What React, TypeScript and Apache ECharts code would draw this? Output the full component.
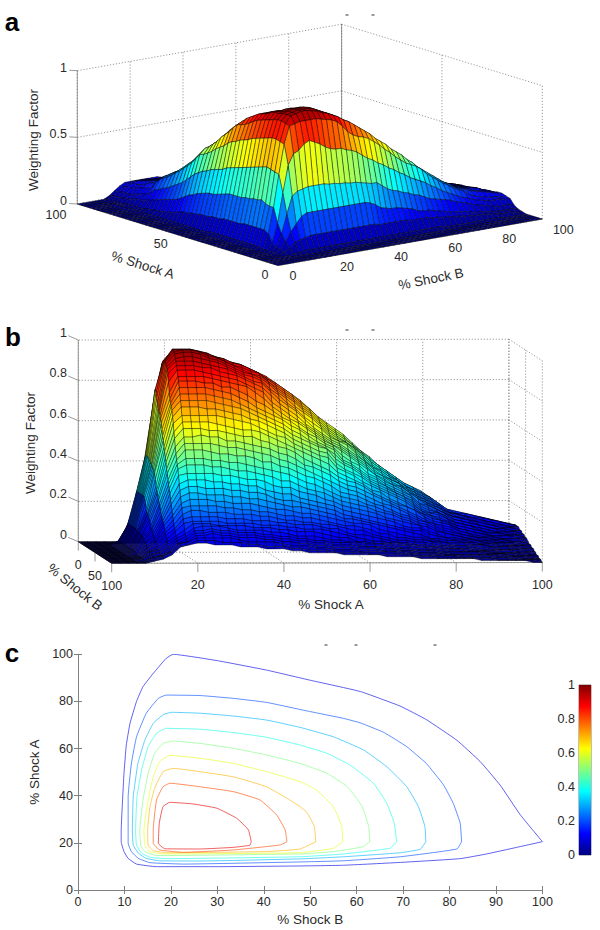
import React, { useEffect, useRef } from "react";
import * as echarts from "echarts";

const FONT = "'Liberation Sans', Arial, sans-serif";
const GREY = "#808080";
const TXT = "#2a2a2a";

// Shock levels of the surface table (both directions).
const shockLevels = [0,2,4,6,8,10,12,14,16,18,20,22,24,26,28,30,32,34,36,38,40,42,44,46,48,50,52,54,56,58,60,62,64,66,68,70,72,74,76,78,80,82,84,86,88,90,92,94,96,98,100];
// weightPercent[i][j]: weighting factor x 100 at %Shock A = shockLevels[i], %Shock B = shockLevels[j].
const weightPercent = [
[0,0,0,0,0, 0,0,0,0,0, 0,0,0,0,0,0,0,0,0,0, 0,0,0,0,0,0,0,0,0,0, 0,0,0,0,0,0,0,0,0,0, 0,0,0,0,0,0,0,0,0,0,0],
[0,0,0,0,0, 0,0,0,0,0, 0,0,0,0,0,0,0,0,0,0, 0,0,0,0,0,0,0,0,0,0, 0,0,0,0,0,0,0,0,0,0, 0,0,0,0,0,0,0,0,0,0,0],
[0,0,0,0,0, 0,0,0,0,0, 0,0,0,0,0,0,0,0,0,0, 0,0,0,0,0,0,0,0,0,0, 0,0,0,0,0,0,0,0,0,0, 0,0,0,0,0,0,0,0,0,0,0],
[0,0,0,0,0, 0,0,0,0,0, 0,0,0,0,0,0,0,0,0,0, 0,0,0,0,0,0,0,0,0,0, 0,0,0,0,0,0,0,0,0,0, 0,0,0,0,0,0,0,0,0,0,0],
[0,0,0,0,0, 0,1,1,2,2, 2,2,2,2,2,2,2,2,2,2, 2,2,2,2,2,2,2,2,2,2, 2,2,2,2,2,1,1,1,1,1, 1,1,1,1,1,1,0,0,0,0,0],
[0,0,0,0,0, 2,4,8,9,10, 11,11,11,11,11,11,11,11,11,11, 11,11,11,10,10,10,10,10,10,9, 9,9,9,8,8,7,7,6,6,5, 5,4,4,4,3,3,2,2,2,1,1],
[0,0,0,0,1, 3,8,15,20,25, 27,27,27,27,27,27,27,27,27,27, 27,27,26,24,21,20,19,19,18,17, 16,14,13,13,12,11,10,9,8,8, 7,6,5,5,4,4,3,3,3,3,2],
[0,0,0,0,1, 4,13,27,40,43, 44,45,45,45,45,44,44,43,43,42, 42,41,40,39,39,36,33,31,30,28, 27,25,24,22,20,19,18,17,16,14, 13,12,10,9,8,7,6,5,5,5,4],
[0,0,0,0,1, 6,20,42,62,70, 72,76,78,76,74,71,69,68,68,66, 65,63,60,57,55,52,50,47,45,42, 40,37,35,33,31,28,26,23,21,19, 17,15,14,12,11,10,9,9,9,8,8],
[0,0,0,0,1, 12,31,55,77,90, 91,92,92,92,92,91,90,89,87,83, 78,75,73,72,70,67,64,60,57,53, 50,47,45,43,40,36,33,30,27,25, 22,20,18,15,13,12,11,10,10,9,9],
[0,0,0,0,2, 14,31,56,78,91, 96,97,98,98,97,96,94,93,91,89, 86,84,81,78,75,72,68,65,62,58, 55,52,48,45,41,38,35,32,29,26, 24,21,19,18,16,15,14,13,12,11,10],
[0,0,0,0,2, 14,32,57,79,92, 96,97,98,98,98,97,95,93,91,89, 86,84,81,78,75,72,68,65,62,58, 55,52,48,45,41,38,35,32,29,26, 24,21,19,18,17,15,14,13,12,11,10],
[0,0,0,0,2, 14,34,58,79,92, 96,97,98,98,98,97,95,93,91,89, 86,84,81,78,75,72,68,65,62,59, 55,52,48,45,41,38,34,31,29,26, 23,21,19,18,17,16,15,14,12,11,9],
[0,0,0,0,2, 14,33,57,78,91, 95,96,97,97,97,96,94,92,90,88, 86,83,81,78,75,71,68,65,61,58, 55,51,47,44,41,37,34,31,28,26, 23,21,19,17,17,15,14,13,12,10,9],
[0,0,0,0,2, 14,33,56,77,90, 95,95,96,96,95,94,93,91,90,87, 85,83,80,77,74,71,68,64,61,58, 54,50,47,44,40,37,34,31,28,25, 23,20,18,17,16,15,14,13,12,10,9],
[0,0,0,0,2, 14,32,55,76,89, 94,94,94,94,94,93,92,90,88,86, 84,81,79,76,73,70,67,63,60,56, 53,50,46,43,40,36,33,30,27,25, 22,20,18,17,15,14,13,12,11,10,8],
[0,0,0,0,2, 13,32,54,75,88, 92,93,93,92,92,91,90,89,87,85, 83,81,78,75,72,69,66,62,59,56, 53,49,46,42,39,36,33,30,27,24, 22,20,18,17,15,14,13,12,10,9,8],
[0,0,0,0,2, 13,31,53,74,87, 91,91,91,90,90,89,88,87,86,84, 82,79,76,73,71,68,65,61,58,55, 52,49,45,42,38,35,32,29,27,24, 22,19,18,16,15,14,13,12,10,9,8],
[0,0,0,0,2, 13,31,52,72,85, 90,90,90,89,88,87,86,85,84,82, 81,77,74,71,69,66,64,61,58,54, 51,48,44,41,38,35,32,29,26,23, 21,19,17,16,15,13,12,11,10,8,7],
[0,0,0,0,2, 13,31,51,71,83, 88,88,88,87,86,86,85,83,82,80, 78,74,71,69,67,65,62,60,56,53, 50,46,43,40,37,33,31,28,25,23, 21,19,17,16,14,13,12,11,10,8,7],
[0,0,0,0,2, 13,31,50,70,81, 86,86,86,86,85,84,83,82,80,78, 75,72,69,67,65,63,60,58,55,52, 49,46,42,39,35,32,29,27,24,22, 20,18,17,15,14,12,11,10,9,8,7],
[0,0,0,0,2, 12,30,49,68,80, 84,83,83,82,82,81,79,78,76,73, 71,69,67,65,63,61,58,56,53,50, 47,44,41,37,34,31,28,26,24,21, 19,18,16,15,13,12,11,10,8,7,6],
[0,0,0,0,2, 12,29,48,67,79, 81,81,80,79,78,77,76,74,72,70, 68,66,65,63,61,59,57,54,52,49, 46,43,40,37,34,31,28,25,23,21, 19,17,16,14,12,11,10,9,8,7,6],
[0,0,0,0,1, 12,28,46,65,76, 78,78,77,76,75,74,72,71,69,67, 65,64,62,60,58,56,54,52,50,47, 44,41,38,35,32,29,27,25,22,20, 18,17,15,14,12,11,10,9,8,6,5],
[0,0,0,0,1, 11,27,45,62,72, 75,75,74,73,72,70,69,68,66,64, 63,61,60,58,56,54,52,50,47,44, 42,39,36,33,31,28,26,24,22,20, 18,17,15,14,12,10,9,8,7,6,5],
[0,0,0,0,1, 11,27,44,60,69, 72,71,70,69,68,67,65,64,62,61, 60,58,57,55,54,52,50,48,45,43, 40,38,35,32,30,27,25,23,21,19, 17,16,15,13,11,10,9,8,7,6,5],
[0,0,0,0,1, 11,26,43,58,66, 68,68,67,66,65,64,62,60,59,58, 57,56,54,53,52,50,48,46,43,41, 38,36,33,31,28,26,24,22,20,18, 17,15,14,12,10,9,8,7,6,5,5],
[0,0,0,0,1, 10,25,41,55,62, 64,64,63,62,61,60,59,57,56,55, 54,53,52,51,51,49,47,44,41,39, 36,34,31,29,27,25,23,21,19,17, 16,15,13,11,10,9,8,7,6,5,4],
[0,0,0,0,1, 10,24,40,53,59, 61,60,59,58,57,56,55,54,53,52, 52,51,50,48,46,44,42,40,38,36, 34,31,29,27,25,23,21,19,18,16, 15,13,12,11,9,9,8,7,6,5,4],
[0,0,0,0,1, 9,22,38,51,56, 58,57,56,55,54,53,53,52,51,50, 49,47,45,44,43,41,40,38,36,34, 32,30,28,26,24,22,20,19,17,16, 14,12,11,9,9,8,7,6,5,5,4],
[0,0,0,0,1, 9,21,36,50,54, 55,54,53,52,52,52,51,49,48,47, 46,44,43,42,41,39,38,36,35,33, 31,29,27,25,23,21,19,18,17,15, 14,12,10,9,8,7,7,6,5,4,4],
[0,0,0,0,1, 8,19,33,46,50, 51,50,50,49,49,48,47,46,45,44, 43,42,40,39,38,37,35,34,33,31, 29,27,25,24,22,20,18,17,16,14, 12,11,9,8,8,7,7,6,5,4,4],
[0,0,0,0,1, 7,17,30,42,46, 47,47,46,46,45,44,43,43,42,41, 40,38,37,36,35,34,33,31,30,29, 27,25,24,22,21,19,17,16,14,12, 11,10,9,8,8,7,6,5,5,4,3],
[0,0,0,0,1, 6,15,27,39,42, 44,43,42,42,41,40,40,39,38,37, 37,36,35,34,33,32,31,30,28,27, 25,24,22,21,19,18,16,15,13,12, 10,9,8,8,7,6,6,5,5,4,3],
[0,0,0,0,1, 5,14,25,36,39, 40,40,39,39,38,38,37,36,36,35, 34,33,32,32,31,30,29,27,26,25, 24,22,21,20,18,17,15,14,12,10, 9,8,8,7,6,6,5,5,4,4,3],
[0,0,0,0,1, 5,13,23,33,36, 37,37,36,36,35,35,34,34,33,32, 32,31,30,29,29,28,27,25,24,23, 22,20,19,18,17,15,14,13,11,10, 9,8,7,7,6,5,5,4,4,3,3],
[0,0,0,0,1, 4,12,21,31,33, 34,34,33,33,33,32,32,32,31,31, 30,29,28,27,27,26,25,23,23,21, 20,19,18,17,16,14,13,12,10,9, 8,7,7,6,5,5,4,4,3,3,2],
[0,0,0,0,1, 4,11,19,28,30, 31,31,30,30,30,29,29,28,28,28, 27,27,26,25,24,23,22,21,21,19, 18,17,16,15,15,14,13,11,10,9, 8,7,6,6,5,5,4,4,3,3,2],
[0,0,0,0,1, 3,10,18,26,28, 29,29,28,28,27,27,26,26,25,25, 23,23,22,21,20,20,19,19,18,17, 16,16,15,14,12,11,9,9,8,8, 7,6,6,5,5,4,4,3,3,2,2],
[0,0,0,0,1, 3,9,16,24,26, 27,26,26,25,25,24,24,23,23,22, 22,21,20,19,19,18,18,17,16,15, 15,14,13,12,11,10,9,8,8,7, 6,6,5,5,4,4,3,3,3,2,2],
[0,0,0,0,1, 2,8,15,22,24, 24,24,23,23,22,22,21,21,20,20, 20,19,19,19,18,17,16,16,15,14, 13,12,11,11,9,9,8,7,7,6, 6,5,5,4,4,3,3,3,3,2,2],
[0,0,0,0,1, 2,7,12,19,21, 21,21,20,20,20,19,19,19,18,18, 18,17,17,16,16,15,15,14,14,13, 12,11,10,10,9,8,8,7,6,6, 5,5,5,4,4,3,3,3,2,2,2],
[0,0,0,0,1, 2,6,10,14,17, 18,18,17,17,17,17,16,16,16,15, 15,14,14,14,13,13,12,12,11,11, 10,10,9,9,8,8,7,7,6,6, 5,5,4,4,4,3,3,3,2,2,2],
[0,0,0,0,1, 2,6,9,13,16, 17,16,16,16,16,15,15,15,15,14, 14,13,13,13,12,12,11,11,10,10, 9,9,8,8,8,7,7,6,6,5, 5,4,4,4,4,3,3,3,2,2,1],
[0,0,0,0,1, 2,5,8,12,15, 16,16,15,15,15,15,14,14,14,13, 13,12,12,12,11,11,10,10,9,8, 8,8,7,7,7,6,6,6,6,5, 4,4,4,4,3,3,3,3,2,2,1],
[0,0,0,0,1, 1,4,7,11,13, 15,15,14,14,14,13,13,13,12,12, 12,11,11,10,10,10,9,9,8,8, 8,7,7,6,6,6,5,5,5,4, 4,4,3,3,3,3,3,2,2,1,1],
[0,0,0,0,1, 1,4,6,10,12, 14,14,14,13,13,13,12,12,11,11, 11,10,10,9,9,8,8,8,8,7, 7,7,6,6,6,5,5,5,4,4, 4,3,3,3,3,3,2,2,2,1,1],
[0,0,0,0,0, 1,3,6,9,11, 13,13,13,12,12,11,11,11,10,10, 10,9,9,9,9,8,8,7,7,7, 7,6,6,6,5,5,5,5,4,4, 4,3,3,3,2,2,2,2,1,1,1],
[0,0,0,0,0, 1,3,6,9,11, 12,12,12,11,11,11,10,10,10,10, 9,9,9,8,8,8,8,7,7,6, 6,6,6,5,5,5,5,4,4,4, 3,3,3,2,2,2,2,1,1,1,1],
[0,0,0,0,0, 1,3,5,8,10, 11,11,11,10,10,10,10,10,9,9, 9,9,8,8,8,8,7,7,7,6, 6,6,5,5,5,5,4,4,4,3, 3,3,2,2,2,2,1,1,1,1,0],
[0,0,0,0,0, 0,2,5,8,10, 10,10,10,10,10,10,9,9,9,9, 8,8,8,8,7,7,7,7,6,6, 5,5,5,5,4,4,4,4,3,3, 3,2,2,2,2,1,1,1,1,0,0],
];

// Contours of panel c, [%Shock B, %Shock A], one list per level.
const contourLevels = [0.1,0.2,0.3,0.4,0.5,0.6,0.7,0.8,0.9];
const contour10 = [[100,20.5],[95.2,32],[90.9,44.5],[86.6,54.5],[81.6,63.5],[75,72.3],[69.4,78],[60.8,84.2],[50,89],[40.6,93.3],[30,97.3],[20.5,100],[19,98.3],[16.5,92.6],[14,86.3],[12.6,80],[11.2,70.7],[10.4,61.5],[9.9,49.5],[9.6,38.2],[9.3,25.5],[9.3,20.5],[9.9,16.3],[10.8,13.4],[12.6,11],[16.9,9.9],[30,9.9],[47.8,10.2],[57.2,10.5],[69.4,11.7],[82.3,13.3],[88,15.3],[94.5,18.1],[100,20.5]];
const contour20 = [[82.6,20.5],[82.3,28.3],[80.8,36.8],[78.7,44.6],[75,53.7],[70.8,60.8],[65.8,66.9],[60.8,70.9],[57.2,72.8],[50,75.7],[47.8,76.6],[40.6,79.6],[33.5,81.3],[26.3,82.5],[19,82.7],[17.3,81.3],[14.7,75],[12.6,65],[11.5,53.7],[10.8,39.6],[10.8,25.5],[10.8,19.8],[11.5,16.3],[13,13.4],[15.5,11.6],[22.7,11],[47.8,11.9],[57.2,12.4],[69.4,14.1],[81.6,17.4],[82.6,20.5]];
const contour30 = [[74.9,20.5],[74.7,26.9],[73.3,35.4],[70.8,43.8],[66.5,52.3],[61.5,59.4],[55,65],[47.8,69],[40.6,72.1],[33.5,73.8],[26.3,75],[20.1,75.4],[18.3,74.3],[16.2,70.7],[14.4,63.6],[12.9,53.7],[11.9,39.6],[11.7,25.5],[11.9,19],[13,15.6],[14.7,13.4],[17.6,12.4],[26.3,12.3],[47.8,13.2],[57.2,14.1],[69.4,15.8],[73.7,17.3],[74.9,20.5]];
const contour40 = [[68.6,20.5],[68.1,28.3],[66.5,36.8],[63.6,45.3],[58.6,53],[53.6,58],[47.8,61.5],[40.6,64.8],[33.5,66.8],[26.3,68.2],[19,68.6],[16.9,66.5],[15.1,60.8],[13.7,50.9],[12.7,39.6],[12.4,25.5],[12.6,19],[13.7,15.6],[15.5,13.9],[19,13.3],[47.8,14.1],[57.2,15.3],[67.2,17.7],[68.6,20.5]];
const contour50 = [[62.8,20.5],[62.6,26.9],[61.2,35.4],[58,43.8],[53.6,49.5],[47.8,53.7],[40.6,57.3],[33.5,60.1],[26.3,62.2],[20.5,63.2],[18.3,62.2],[16.5,58],[15.1,49.5],[14,38.2],[13.3,25.5],[13.5,19],[14.4,16.3],[16.9,14.6],[47.8,15.3],[55,16.3],[61.5,18.4],[62.8,20.5]];
const contour60 = [[57,20.5],[56.8,26.9],[55,35.4],[51.4,42.4],[47.8,46],[40.6,50.2],[33.5,53.7],[26.3,55.9],[19.8,57.1],[17.6,54.5],[16.2,48],[15.1,38.2],[14.2,25.5],[14.4,19],[15.5,16.3],[18.3,15.3],[47.8,15.8],[55,17.7],[57,20.5]];
const contour70 = [[51.2,20.5],[50.9,26.9],[49.3,32.9],[47.8,35.4],[45,38.9],[40.6,43.8],[33.5,48],[26.3,50.2],[20.5,51.6],[18.3,50.2],[16.5,43.1],[15.5,35.4],[15,25.5],[15.1,19],[16.2,16.7],[19,15.8],[40.6,16.3],[47.8,17.4],[51.2,20.5]];
const contour80 = [[45,20.5],[44.6,25.5],[42.8,31.8],[39.2,38.2],[33.5,41.7],[26.3,43.8],[19.8,45.3],[18.3,43.8],[16.9,38.2],[16.2,25.5],[16.2,19.8],[17.6,17],[22.7,16],[33.5,17],[43.5,19.1],[45,20.5]];
const contour90 = [[37.3,20.5],[36.7,25.5],[34.2,30.4],[29.9,34.7],[24.8,36.5],[19.8,37.2],[18.3,35.4],[17.5,28.3],[17.3,19.8],[18.7,17.5],[26.3,17.4],[33.5,18.1],[37,19],[37.3,20.5]];
const contourLines = [contour10,contour20,contour30,contour40,contour50,contour60,contour70,contour80,contour90];

// Tick labels
const aZTicks = [0,0.5,1];
const aATicks = [0,50,100];
const aBTicks = [0,20,40,60,80,100];
const bZTicks = [0,0.2,0.4,0.6,0.8,1];
const bATicks = [20,40,60,80,100];
const bBTicks = [0,50,100];

// The MATLAB "jet" colour map
const jetStops: [number, number[]][] = [[0,[0,0,.5]],[.125,[0,0,1]],[.375,[0,1,1]],[.625,[1,1,0]],[.875,[1,0,0]],[1,[.5,0,0]]];
function jet(t: number) {
  const v = Math.max(0, Math.min(1, t));
  for (let i = 1; i < jetStops.length; i++) {
    const [p0, c0] = jetStops[i - 1];
    const [p1, c1] = jetStops[i];
    if (v <= p1) {
      const f = (v - p0) / (p1 - p0);
      const c = c0.map((x, k) => Math.round(255 * (x + (c1[k] - x) * f)));
      return `rgb(${c[0]},${c[1]},${c[2]})`;
    }
  }
  return "rgb(128,0,0)";
}

type Proj = (a: number, b: number, z: number) => number[];
// Orthographic views: screen position of a point (%A, %B, weight)
const viewA: Proj = (a, b, z) => [278 - 2.007 * a + 2.643 * b, 265.5 - 0.615 * a - 0.465 * b - 133.3 * z];
const viewB: Proj = (a, b, z) => [78.3 + 4.306 * a + 0.334 * b, 541.7 - 0.008 * a + 0.216 * b - 201.7 * z];

function quadData(aOrder: number[], bOrder: number[]) {
  const out: number[][] = [];
  for (const i of aOrder) for (const j of bOrder) {
    out.push([shockLevels[i], shockLevels[j], shockLevels[i + 1], shockLevels[j + 1],
      weightPercent[i][j] / 100, weightPercent[i][j + 1] / 100, weightPercent[i + 1][j + 1] / 100, weightPercent[i + 1][j] / 100]);
  }
  return out;
}
const idx = shockLevels.slice(0, -1).map((_, i) => i);
const desc = [...idx].reverse();

function surfaceSeries(view: Proj, data: number[][]) {
  return {
    type: "custom", coordinateSystem: "cartesian2d", xAxisIndex: 0, yAxisIndex: 0,
    data, clip: false, silent: true, progressive: 0, z: 3, encode: { x: 0, y: 1 },
    renderItem: (_: any, api: any) => {
      const a0 = api.value(0), b0 = api.value(1), a1 = api.value(2), b1 = api.value(3);
      const z = [api.value(4), api.value(5), api.value(6), api.value(7)];
      const pts = [view(a0, b0, z[0]), view(a0, b1, z[1]), view(a1, b1, z[2]), view(a1, b0, z[3])].map((p) => api.coord(p));
      return { type: "polygon", shape: { points: pts },
        style: { fill: jet((z[0] + z[1] + z[2] + z[3]) / 4), stroke: "rgba(0,0,0,0.8)", lineWidth: 0.5 } };
    },
  };
}

const seg = (p: number[], q: number[], dotted = true, color = GREY, w = 0.8) => ({
  type: "line", silent: true, shape: { x1: p[0], y1: p[1], x2: q[0], y2: q[1] },
  style: { stroke: color, lineWidth: w, lineDash: dotted ? [1.2, 1.8] : null },
});
const label = (text: string, x: number, y: number, size = 12.5, rotation = 0, weight = "normal", color = TXT, align = "center") => ({
  type: "text", silent: true, x, y, rotation,
  style: { text, fill: color, font: `${weight} ${size}px ${FONT}`, align, verticalAlign: "middle", textAlign: align, textVerticalAlign: "middle" },
});

function wireframe(view: Proj, wallB: number, otherB: number, zTicks: number[], aTicks: number[], bTicks: number[]) {
  const els: any[] = [];
  for (const z of zTicks) {
    if (z === 0) continue;
    els.push(seg(view(100, wallB, z), view(0, wallB, z)));
    els.push(seg(view(100, wallB, z), view(100, otherB, z)));
  }
  for (const a of aTicks) {
    els.push(seg(view(a, wallB, 0), view(a, wallB, 1)));
    els.push(seg(view(a, 0, 0), view(a, 100, 0)));
  }
  for (const b of bTicks) {
    els.push(seg(view(100, b, 0), view(100, b, 1)));
    els.push(seg(view(0, b, 0), view(100, b, 0)));
  }
  return els;
}

function buildGraphics() {
  const els: any[] = [];
  // Panel a
  els.push(...wireframe(viewA, 100, 0, aZTicks, aATicks, aBTicks));
  els.push(seg(viewA(100, 0, 0), viewA(100, 0, 1), false));
  els.push(seg(viewA(100, 100, 0), viewA(100, 100, 1), false));
  els.push(seg(viewA(0, 0, 0), viewA(100, 0, 0), false));
  els.push(seg(viewA(0, 0, 0), viewA(0, 100, 0), false));
  for (const z of aZTicks) {
    const p = viewA(100, 0, z);
    els.push(seg([p[0] - 8, p[1] - 0.5], p, false));
    els.push(label(String(z), 67, p[1] - 3, 12.5, 0, "normal", TXT, "right"));
  }
  const aLabelPos: number[][] = [[265, 275], [160.7, 244], [56, 214.5]];
  aATicks.forEach((a, i) => els.push(label(String(a), aLabelPos[i][0], aLabelPos[i][1])));
  aBTicks.forEach((b) => {
    const p = viewA(0, b, 0);
    els.push(label(String(b), p[0] + 15 + 0.06 * b, p[1] + 10.5));
  });
  els.push(label("Weighting Factor", 33, 140, 13.5, Math.PI / 2));
  els.push(label("% Shock A", 142.7, 265, 13.5, -0.3));
  els.push(label("% Shock B", 431, 279, 13.5, 0.2));
  els.push(label("a", 12, 22, 26, 0, "bold", "#000"));

  // Panel b
  els.push(...wireframe(viewB, 0, 100, bZTicks, [...bATicks, 0], bBTicks));
  els.push(seg(viewB(0, 0, 0), viewB(0, 0, 1), false));
  els.push(seg(viewB(0, 0, 0), viewB(0, 100, 0), false));
  els.push(seg(viewB(0, 100, 0), viewB(100, 100, 0), false));
  for (const z of bZTicks) {
    const p = viewB(0, 0, z);
    els.push(seg([p[0] - 10, p[1] - 4.3], p, false));
    els.push(label(String(z), 67, p[1] - 7, 12.5, 0, "normal", TXT, "right"));
  }
  bATicks.forEach((a) => {
    const p = viewB(a, 100, 0);
    els.push(seg(p, [p[0], p[1] + 9], false));
    els.push(label(String(a), p[0], p[1] + 22));
  });
  bBTicks.forEach((b) => {
    const p = viewB(0, b, 0);
    els.push(seg(p, [p[0], p[1] + 9], false));
    els.push(label(String(b), p[0], p[1] + 23));
  });
  els.push(label("Weighting Factor", 30, 443, 13.5, Math.PI / 2));
  els.push(label("% Shock A", 331, 604, 13.5));
  els.push(label("% Shock B", 75, 587, 13.5, -0.68));
  els.push(label("b", 13, 337, 26, 0, "bold", "#000"));

  // Panel c
  els.push(label("c", 12, 653, 26, 0, "bold", "#000"));

  // Remains of cropped titles
  for (const [x, y] of [[347, 15], [373, 15], [347, 330], [373, 330], [326, 645], [356, 645], [435, 645]]) {
    els.push(seg([x - 1.5, y], [x + 1.5, y], false, "#333", 1));
  }
  return els;
}

export default function App() {
  const ref = useRef<HTMLDivElement>(null);
  useEffect(() => {
    document.body.style.margin = "0";
    const chart = echarts.init(ref.current!, null, { renderer: "svg" });
    const axisLine = { show: true, lineStyle: { color: GREY, width: 1 } };
    const axisTick = { show: true, inside: true, length: 4, lineStyle: { color: GREY } };
    const axisLabel = { color: TXT, fontSize: 12.5, fontFamily: FONT, margin: 5 };
    const cBase = { type: "value", min: 0, max: 100, interval: 10, splitLine: { show: false }, axisLine, axisTick };
    const cBaseY = { ...cBase, interval: 20 };
    chart.setOption({
      animation: false,
      backgroundColor: "#fff",
      graphic: { elements: buildGraphics() },
      grid: [
        { left: 0, top: 0, width: 600, height: 930 },
        { left: 78, top: 654.3, width: 464.4, height: 235.7 },
        { left: 579, top: 685, width: 12, height: 170, show: true, borderColor: GREY, borderWidth: 1 },
      ],
      xAxis: [
        { type: "value", gridIndex: 0, min: 0, max: 600, show: false },
        { ...cBase, gridIndex: 1, position: "bottom", axisLabel, name: "% Shock B", nameLocation: "middle", nameGap: 22,
          nameTextStyle: { color: TXT, fontSize: 13.5, fontFamily: FONT } },
        { ...cBase, gridIndex: 1, position: "top", axisLabel: { show: false } },
        { type: "category", gridIndex: 2, data: [""], show: false },
      ],
      yAxis: [
        { type: "value", gridIndex: 0, min: 0, max: 930, inverse: true, show: false },
        { ...cBaseY, gridIndex: 1, position: "left", axisLabel, name: "% Shock A", nameLocation: "middle", nameGap: 36,
          nameTextStyle: { color: TXT, fontSize: 13.5, fontFamily: FONT } },
        { ...cBaseY, gridIndex: 1, position: "right", axisLabel: { show: false } },
        { type: "value", gridIndex: 2, min: 0, max: 1, interval: 0.2, position: "left", splitLine: { show: false },
          axisLine: { show: false }, axisTick: { show: true, inside: false, length: 0 },
          axisLabel: { ...axisLabel, margin: 4 } },
      ],
      series: [
        surfaceSeries(viewA, quadData(desc, desc)),
        surfaceSeries(viewB, quadData(desc, idx)),
        ...contourLines.map((pts, i) => ({
          type: "line", xAxisIndex: 1, yAxisIndex: 1, data: pts, showSymbol: false, silent: true, smooth: 0.12,
          lineStyle: { color: jet(contourLevels[i]), width: 1, opacity: 0.62 }, z: 4,
        })),
        { type: "bar", xAxisIndex: 3, yAxisIndex: 3, data: [1], barWidth: "100%", silent: true, z: 1,
          itemStyle: { color: new echarts.graphic.LinearGradient(0, 1, 0, 0,
            jetStops.map(([p]) => ({ offset: p, color: jet(p) }))) } },
      ],
    });
    return () => chart.dispose();
  }, []);
  return <div ref={ref} style={{ width: 600, height: 930 }} />;
}
